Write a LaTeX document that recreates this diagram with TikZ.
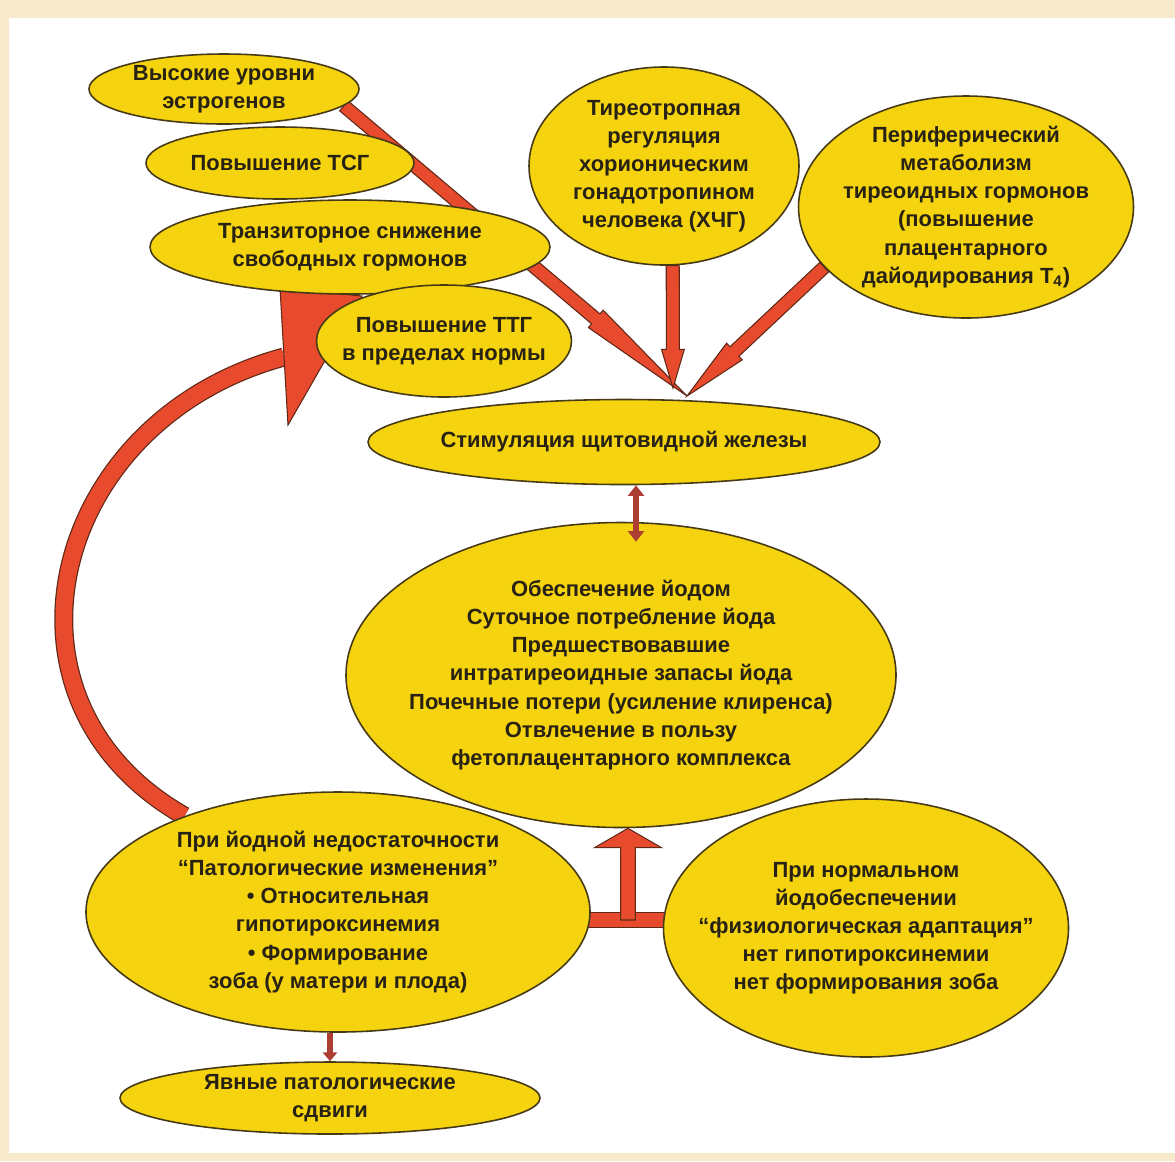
\documentclass[tikz,border=0pt]{standalone}
\usepackage{fontspec}
\setmainfont{Liberation Sans}
\usetikzlibrary{shapes.geometric, arrows.meta, positioning, calc, backgrounds}

\definecolor{ovalfill}{RGB}{245,211,14}
\definecolor{ovaledge}{RGB}{70,58,22}
\definecolor{arrred}{RGB}{232,74,46}
\definecolor{arredge}{RGB}{96,40,22}
\definecolor{darkred}{RGB}{172,62,52}
\definecolor{slidebg}{RGB}{247,234,202}
\definecolor{inktext}{RGB}{40,34,20}

\newlength\pxu
\setlength\pxu{0.02cm}

% fat arrow: start, tip, shaft half width, head length, head half width
\newcommand\fatarrow[5]{%
  \coordinate (fa-base) at ($(#2)!#4!(#1)$);
  \filldraw[fatarr] ($(#1)!#3!90:(#2)$) -- ($(fa-base)!#3!-90:(#1)$)
    -- ($(fa-base)!#5!-90:(#1)$) -- (#2) -- ($(fa-base)!#5!90:(#1)$)
    -- ($(fa-base)!#3!90:(#1)$) -- ($(#1)!#3!-90:(#2)$) -- cycle;}

\begin{document}
\begin{tikzpicture}[
    x=0.02cm, y=-0.02cm,
    oval/.style={ellipse, draw=ovaledge, fill=ovalfill, line width=0.9pt, inner sep=-80pt, align=center, text=inktext, font=\bfseries\fontsize{12.5}{16}\selectfont},
    fatarr/.style={fill=arrred, draw=arredge, line width=0.6pt, line join=miter},
    fatline/.style={preaction={draw=arredge, line width=9.6pt}, draw=arrred, line width=8.4pt},
    bigarc/.style={preaction={draw=arredge, line width=10.8pt}, draw=arrred, line width=9.4pt},
    dblarr/.style={darkred, line width=3.4pt, {Triangle[length=6pt,width=9pt]}-{Triangle[length=6pt,width=9pt]}},
    downarr/.style={darkred, line width=3pt, -{Triangle[length=5pt,width=8pt]}}
]
    \useasboundingbox (0,0) rectangle (1175,1161);

    % Upper left group
    \node[oval, minimum width=270\pxu, minimum height=70\pxu] (estro) at (224,89) {Высокие уровни\\эстрогенов};
    \node[oval, minimum width=268\pxu, minimum height=72\pxu] (tsg) at (280,163) {Повышение ТСГ};
    \node[oval, minimum width=400\pxu, minimum height=94\pxu] (transit) at (350,247) {Транзиторное снижение\\свободных гормонов};
    \node[oval, minimum width=255\pxu, minimum height=112\pxu] (ttg) at (444,341) {Повышение ТТГ\\в пределах нормы};

    % Upper right group
    \node[oval, minimum width=270\pxu, minimum height=198\pxu] (hcg) at (664,166) {Тиреотропная\\регуляция\\хорионическим\\гонадотропином\\человека (ХЧГ)};
    \node[oval, minimum width=335\pxu, minimum height=222\pxu] (perif) at (966,207) {Периферический\\метаболизм\\тиреоидных гормонов\\(повышение\\плацентарного\\дайодирования T\textsubscript{4})};

    % Middle
    \node[oval, minimum width=512\pxu, minimum height=85\pxu] (stim) at (624,442) {Стимуляция щитовидной железы};
    \node[oval, minimum width=550\pxu, minimum height=305\pxu] (iodine) at (621,675) {Обеспечение йодом\\Суточное потребление йода\\Предшествовавшие\\интратиреоидные запасы йода\\Почечные потери (усиление клиренса)\\Отвлечение в пользу\\фетоплацентарного комплекса};

    % Lower group
    \node[oval, minimum width=504\pxu, minimum height=240\pxu] (deficit) at (338,912) {При йодной недостаточности\\“Патологические изменения”\\• Относительная\\гипотироксинемия\\• Формирование\\зоба (у матери и плода)};
    \node[oval, minimum width=405\pxu, minimum height=258\pxu] (normal) at (866,928) {При нормальном\\йодобеспечении\\“физиологическая адаптация”\\нет гипотироксинемии\\нет формирования зоба};
    \node[oval, minimum width=420\pxu, minimum height=72\pxu] (shifts) at (330,1098) {Явные патологические\\сдвиги};

    % Meeting points
    \coordinate (conv) at (687,396);
    \coordinate (convb) at (673,388);
    \coordinate (tj) at (628,920);
    \coordinate (dbl) at (636,0);
    \coordinate (hdbase) at (284,357);
    \coordinate (hdtop) at (280,288);
    \coordinate (hdlow) at (288,425);
    \coordinate (hdtip) at (362,296);

    \begin{scope}[on background layer]
        \fill[slidebg] (0,0) rectangle (1175,1161);
        \fill[white] (9,18) rectangle (1175,1153);

        % Converging arrows
        \fatarrow{estro.-8}{conv}{3.7pt}{68pt}{6.5pt}
        \fatarrow{hcg.-85}{convb}{3.7pt}{22pt}{6.5pt}
        \fatarrow{perif.203}{conv}{3.7pt}{37pt}{6.5pt}

        % T junction
        \draw[fatline] ($(tj -| deficit.east)+(-10,0)$) -- ($(tj -| normal.west)+(10,0)$);
        \fatarrow{tj}{iodine.south -| tj}{4.2pt}{11pt}{19pt}

        % Feedback arc
        \draw[bigarc] (deficit.148) .. controls (-20,700) and (50,420) .. (hdbase);
        \filldraw[fatarr] (hdtop) -- (hdlow) -- (hdtip) -- cycle;
    \end{scope}

    \draw[dblarr] (stim.south -| dbl) -- ($(iodine.north -| dbl)+(0,20)$);
    \draw[downarr] (deficit.south -| shifts) -- (shifts.north);

\end{tikzpicture}
\end{document}
